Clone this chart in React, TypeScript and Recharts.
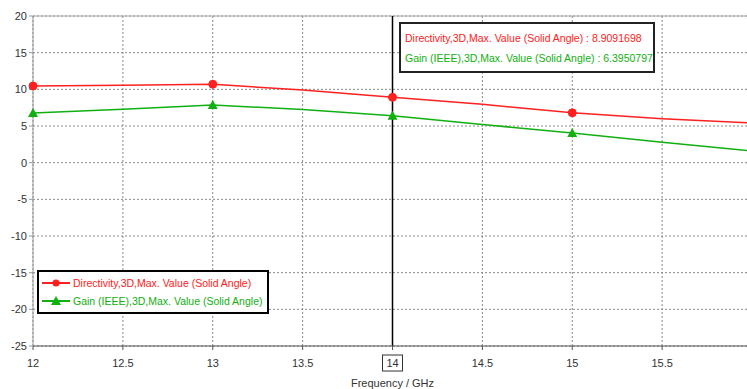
import React from 'react';
import {
  LineChart,
  Line,
  XAxis,
  YAxis,
  CartesianGrid,
  ReferenceLine,
} from 'recharts';

const freqs = [12, 12.5, 13, 13.5, 14, 14.5, 15, 15.5, 16];
const directivity = [10.45, 10.55, 10.7, 9.9, 8.91, 7.95, 6.8, 6.0, 5.4];
const gain = [6.77, 7.3, 7.85, 7.25, 6.4, 5.2, 4.05, 2.8, 1.6];
const markerFreqs = [12, 13, 14, 15];
const xTicks = [12, 12.5, 13, 13.5, 14, 14.5, 15, 15.5];
const yTicks = [-25, -20, -15, -10, -5, 0, 5, 10, 15, 20];
const cursorFreq = 14;
const dirLabel = 'Directivity,3D,Max. Value (Solid Angle)';
const gainLabel = 'Gain (IEEE),3D,Max. Value (Solid Angle)';
const dirAtCursor = '8.9091698';
const gainAtCursor = '6.3950797';

const data = freqs.map((f, i) => ({ f, dir: directivity[i], gain: gain[i] }));

const RED = '#ff2020';
const GREEN = '#10b010';
const FONT = '"Liberation Sans", Arial, sans-serif';

const CircleDot = (props: any) => {
  const { cx, cy, payload, index } = props;
  if (!markerFreqs.includes(payload.f)) return <g key={`d${index}`} />;
  return <circle key={`d${index}`} cx={cx} cy={cy} r={4} fill={RED} stroke={RED} />;
};

const TriDot = (props: any) => {
  const { cx, cy, payload, index } = props;
  if (!markerFreqs.includes(payload.f)) return <g key={`t${index}`} />;
  return (
    <polygon
      key={`t${index}`}
      points={`${cx},${cy - 5} ${cx - 5},${cy + 4} ${cx + 5},${cy + 4}`}
      fill={GREEN}
    />
  );
};

const XTick = (props: any) => {
  const { x, y, payload } = props;
  const boxed = payload.value === cursorFreq;
  return (
    <g>
      {boxed && (
        <rect x={x - 10} y={y + 3} width={20} height={16} fill="white" stroke="#333" strokeWidth={1} />
      )}
      <text x={x} y={y + 15} textAnchor="middle" fontSize={11} fill="#333" fontFamily={FONT}>
        {payload.value}
      </text>
    </g>
  );
};

const LegendBox = () => (
  <div
    style={{
      position: 'absolute',
      left: 37,
      top: 270,
      border: '2px solid #000',
      background: 'white',
      padding: '2px 5px 2px 0',
      fontFamily: FONT,
      fontSize: 10.5,
      lineHeight: '18px',
      whiteSpace: 'nowrap',
    }}
  >
    <div style={{ display: 'flex', alignItems: 'center', color: RED }}>
      <svg width={34} height={14}>
        <line x1={3} y1={7} x2={31} y2={7} stroke={RED} strokeWidth={2} />
        <circle cx={17} cy={7} r={3.5} fill={RED} />
      </svg>
      {dirLabel}
    </div>
    <div style={{ display: 'flex', alignItems: 'center', color: GREEN }}>
      <svg width={34} height={14}>
        <line x1={3} y1={7} x2={31} y2={7} stroke={GREEN} strokeWidth={2} />
        <polygon points="17,2 12,11 22,11" fill={GREEN} />
      </svg>
      {gainLabel}
    </div>
  </div>
);

export default function App() {
  return (
    <div
      style={{
        position: 'absolute',
        left: 0,
        top: 0,
        width: 747,
        height: 389,
        overflow: 'hidden',
        background: 'white',
      }}
    >
      <LineChart
        width={760}
        height={389}
        data={data}
        margin={{ top: 16, right: 8, left: 0, bottom: 13 }}
      >
        <CartesianGrid stroke="#888" strokeDasharray="2 2" />
        <XAxis
          dataKey="f"
          type="number"
          domain={[12, 16]}
          ticks={xTicks}
          height={30}
          stroke="#555"
          tickLine={{ stroke: '#555' }}
          tickSize={4}
          tick={<XTick />}
          label={{
            value: 'Frequency / GHz',
            position: 'insideBottom',
            offset: -11,
            style: { fontFamily: FONT, fontSize: 11, fill: '#333' },
          }}
        />
        <YAxis
          type="number"
          domain={[-25, 20]}
          ticks={yTicks}
          width={33}
          stroke="#999"
          tickSize={4}
          tick={{ fontFamily: FONT, fontSize: 11, fill: '#333' }}
        />
        <ReferenceLine y={20} stroke="#aaa" />
        <ReferenceLine x={cursorFreq} stroke="#000" strokeWidth={1.5} />
        <Line
          dataKey="dir"
          stroke={RED}
          strokeWidth={1.5}
          dot={<CircleDot />}
          activeDot={false}
          isAnimationActive={false}
        />
        <Line
          dataKey="gain"
          stroke={GREEN}
          strokeWidth={1.5}
          dot={<TriDot />}
          activeDot={false}
          isAnimationActive={false}
        />
      </LineChart>
      <LegendBox />
      <div
        style={{
          position: 'absolute',
          left: 399,
          top: 22,
          width: 256,
          height: 51,
          border: '2px solid #222',
          background: 'white',
          fontFamily: FONT,
          fontSize: 10.5,
          lineHeight: '20px',
          paddingLeft: 4,
          paddingTop: 4,
          boxSizing: 'border-box',
          whiteSpace: 'nowrap',
        }}
      >
        <div style={{ color: RED }}>{`${dirLabel} : ${dirAtCursor}`}</div>
        <div style={{ color: GREEN }}>{`${gainLabel} : ${gainAtCursor}`}</div>
      </div>
    </div>
  );
}
